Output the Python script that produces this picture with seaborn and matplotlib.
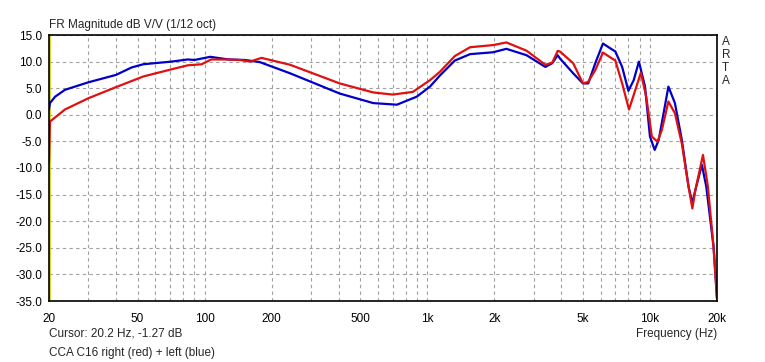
import matplotlib
matplotlib.use("Agg")
from matplotlib import pyplot as plt
from matplotlib.ticker import FixedLocator, NullFormatter
import seaborn as sns
import pandas as pd

# left channel (blue)
freq_left = [20, 20.2, 21.3, 23.6, 30, 40, 47, 53, 71, 84, 90, 106, 128, 152, 177,
             242, 404, 572, 730, 896, 1028, 1140, 1330, 1556, 1972, 2265, 2790,
             3390, 3640, 3850, 3940, 4520, 5000, 5280, 5680, 6150, 6630, 6990, 7500,
             8000, 8450, 8920, 9500, 10000, 10500, 10950, 12100, 12940, 13900,
             14900, 15500, 16000, 17100, 17900, 19300, 20000]
db_left = [1.0, 2.2, 3.4, 4.7, 6.1, 7.5, 8.9, 9.5, 10.0, 10.4, 10.3, 10.9, 10.4, 10.3, 9.9,
           7.8, 4.0, 2.2, 1.9, 3.4, 5.3, 7.4, 10.2, 11.4, 11.75, 12.4, 11.2,
           9.0, 9.7, 11.2, 10.6, 7.8, 5.9, 5.9, 9.7, 13.4, 12.5, 11.9, 9.0,
           4.5, 6.5, 10.0, 5.3, -4.1, -6.6, -4.7, 5.3, 2.2, -4.7,
           -13.5, -16.6, -14.1, -9.4, -13.5, -24.8, -34.5]

# right channel (red)
freq_right = [20, 20.2, 21.3, 23.6, 30, 40, 53, 71, 84, 97, 107, 128, 144, 160, 180,
              242, 404, 572, 700, 860, 1028, 1140, 1330, 1556, 1972, 2265, 2790,
              3390, 3640, 3850, 3940, 4520, 5000, 5280, 5680, 6150, 6630, 6990, 7500,
              8050, 8600, 9100, 9620, 10200, 10800, 11300, 12100, 12940, 13900,
              14900, 15500, 16000, 17300, 18200, 19300, 20000]
db_right = [-9.0, -1.27, -0.5, 1.0, 3.1, 5.2, 7.2, 8.55, 9.3, 9.5, 10.4, 10.4, 10.3, 10.0, 10.7,
            9.4, 5.9, 4.2, 3.8, 4.3, 6.5, 8.1, 11.05, 12.7, 13.1, 13.6, 12.05,
            9.4, 9.8, 12.0, 11.9, 9.7, 5.9, 6.2, 8.4, 11.7, 10.8, 10.2, 5.9,
            1.0, 4.7, 7.9, 3.4, -4.1, -5.05, -2.9, 2.5, 0.3, -5.4,
            -13.5, -17.6, -14.1, -7.55, -13.5, -24.8, -34.5]

major_freqs = [20, 50, 100, 200, 500, 1000, 2000, 5000, 10000, 20000]
major_labels = ["20", "50", "100", "200", "500", "1k", "2k", "5k", "10k", "20k"]
minor_freqs = [30, 40, 60, 70, 80, 90, 300, 400, 600, 700, 800, 900,
               3000, 4000, 6000, 7000, 8000, 9000]
db_ticks = [15, 10, 5, 0, -5, -10, -15, -20, -25, -30, -35]

df = pd.concat([
    pd.DataFrame({"freq": freq_left, "db": db_left, "channel": "left"}),
    pd.DataFrame({"freq": freq_right, "db": db_right, "channel": "right"}),
], ignore_index=True)

sns.set_style("white")
plt.rcParams["font.family"] = ["Liberation Sans", "DejaVu Sans"]

W, H = 765, 362
fig = plt.figure(figsize=(W / 100, H / 100), dpi=100)
ax = fig.add_axes([49 / W, 1 - 301 / H, 668 / W, 266 / H])

ax.set_xscale("log")
ax.set_xlim(20, 20000)
ax.set_ylim(-35, 15)

ax.xaxis.set_major_locator(FixedLocator(major_freqs))
ax.xaxis.set_minor_locator(FixedLocator(minor_freqs))
ax.xaxis.set_minor_formatter(NullFormatter())
ax.set_xticks(major_freqs)
ax.set_xticklabels(major_labels)
ax.set_yticks(db_ticks)
ax.set_yticklabels([f"{v:.1f}" for v in db_ticks])

ax.grid(True, which="both", axis="x", color="#a0a0a0", linestyle=(0, (3, 3)), linewidth=0.8)
ax.grid(True, which="major", axis="y", color="#a0a0a0", linestyle=(0, (3, 3)), linewidth=0.8)
ax.axvline(20.2, color="#d0d000", linewidth=1.2, zorder=1)

sns.lineplot(data=df, x="freq", y="db", hue="channel", hue_order=["left", "right"],
             palette={"left": "#0000c8", "right": "#e01010"}, estimator=None,
             linewidth=1.6, legend=False, ax=ax)

ax.set_xlabel("")
ax.set_ylabel("")
ax.tick_params(axis="both", which="both", length=0, labelsize=8.5, colors="black")
ax.tick_params(axis="x", pad=9)
ax.tick_params(axis="y", pad=5)
for s in ax.spines.values():
    s.set_color("black")
    s.set_linewidth(1.2)

fig.text(49 / W, 1 - 25 / H, "FR Magnitude dB V/V (1/12 oct)", fontsize=8.5, va="center", ha="left")
fig.text(49 / W, 1 - 334 / H, "Cursor: 20.2 Hz, -1.27 dB", fontsize=8.5, va="center", ha="left")
fig.text(49 / W, 1 - 353 / H, "CCA C16 right (red) + left (blue)", fontsize=8.5, va="center", ha="left")
fig.text(717 / W, 1 - 334 / H, "Frequency (Hz)", fontsize=8.5, va="center", ha="right")
fig.text(722 / W, 1 - 36 / H, "A\nR\nT\nA", fontsize=8.5, va="top", ha="left", linespacing=1.1)

fig.savefig("out.png", dpi=100)
